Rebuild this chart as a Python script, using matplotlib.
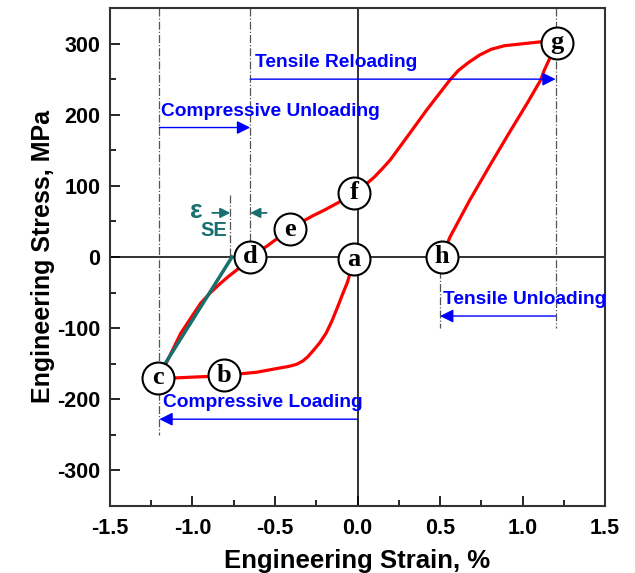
import numpy as np
import matplotlib
matplotlib.use('Agg')
import matplotlib.pyplot as plt
from matplotlib.ticker import MultipleLocator

plt.rcParams['font.family'] = ['Liberation Sans', 'DejaVu Sans']

# Curva de esfuerzo-deformacion
carga_x = [-0.02, -0.04, -0.06, -0.09, -0.12, -0.155, -0.19, -0.23, -0.27, -0.30, -0.33,
           -0.37, -0.42, -0.47, -0.54, -0.61, -0.70, -0.81, -0.91, -1.01, -1.10, -1.20]
carga_y = [-3, -18, -35, -52, -70, -90, -107, -121, -132, -140, -146,
           -151, -154, -156, -159, -162, -164, -166, -168, -169, -170, -170]

descarga_x = [-1.20, -1.17, -1.15, -1.11, -1.07, -1.01, -0.95, -0.89, -0.83, -0.78, -0.73,
              -0.69, -0.65, -0.60, -0.55, -0.48, -0.41, -0.34, -0.27, -0.20, -0.12, -0.06, -0.02]
descarga_y = [-170, -155, -145, -126, -107, -86, -65, -50, -37, -27, -18,
               -9, 0, 8, 15, 27, 39, 49, 58, 66, 76, 84, 90]

recarga_x = [-0.02, 0.02, 0.06, 0.10, 0.15, 0.20, 0.26, 0.32, 0.37, 0.42, 0.49, 0.56,
             0.61, 0.67, 0.74, 0.81, 0.89, 0.97, 1.05, 1.13, 1.21]
recarga_y = [90, 97, 104, 112, 124, 137, 156, 175, 191, 207, 228, 249,
             262, 273, 284, 292, 297, 299, 301, 303, 303]

desc_tension_x = [1.21, 1.19, 1.16, 1.13, 1.11, 1.07, 1.03, 0.92, 0.81, 0.68, 0.56, 0.51]
desc_tension_y = [303, 292, 277, 262, 249, 233, 217, 175, 132, 80, 28, 0]

# Recta elastica (epsilon_SE)
recta_x = [-1.16, -0.76]
recta_y = [-148, 0]

# Puntos etiquetados
etiquetas = ['a', 'b', 'c', 'd', 'e', 'f', 'g', 'h']
etiq_x = [-0.02, -0.81, -1.21, -0.65, -0.41, -0.02, 1.21, 0.51]
etiq_y = [-3, -166, -170, 0, 39, 90, 301, 0]

# Lineas verticales de referencia (x, y_inicio, y_fin)
guias_x = [-1.2, -0.65, 1.2, 0.5, -0.77]
guias_y0 = [350, 350, 350, 0, 87]
guias_y1 = [-250, 0, -100, -100, 0]

# Flechas con texto
flechas_txt = ['Tensile Reloading', 'Compressive Unloading', 'Tensile Unloading', 'Compressive Loading']
flechas_tx = [-0.62, -1.19, 0.52, -1.18]
flechas_ty = [273, 204, -60, -204]
flechas_x0 = [-0.65, -1.2, 1.2, 0.0]
flechas_x1 = [1.2, -0.65, 0.5, -1.2]
flechas_y = [250, 182, -83, -228]

rojo = '#ff0000'
verde = '#17706e'
azul = '#0000ff'

fig = plt.figure(figsize=(6.35, 5.73), dpi=100)
ax = fig.add_axes([0.173, 0.117, 0.780, 0.869])

ax.axhline(0, color='#222222', lw=1.3, zorder=1)
ax.axvline(0, color='#222222', lw=1.3, zorder=1)

for gx, g0, g1 in zip(guias_x, guias_y0, guias_y1):
    ax.plot([gx, gx], [g0, g1], color='#555555', lw=0.9, ls='-.', zorder=1)

ax.plot(carga_x, carga_y, color=rojo, lw=2.3, zorder=2)
ax.plot(descarga_x, descarga_y, color=rojo, lw=2.3, zorder=2)
ax.plot(recarga_x, recarga_y, color=rojo, lw=2.3, zorder=2)
ax.plot(desc_tension_x, desc_tension_y, color=rojo, lw=2.3, zorder=2)
ax.plot(recta_x, recta_y, color=verde, lw=2.5, zorder=3)

for txt, tx, ty, x0, x1, fy in zip(flechas_txt, flechas_tx, flechas_ty, flechas_x0, flechas_x1, flechas_y):
    ax.annotate('', xy=(x1, fy), xytext=(x0, fy),
                arrowprops=dict(arrowstyle='-|>', color=azul, lw=1.0, mutation_scale=20, shrinkA=0, shrinkB=0))
    ax.text(tx, ty, txt, color=azul, fontsize=13.8, fontweight='bold', va='center', ha='left')

# epsilon_SE
ax.annotate('', xy=(-0.77, 62), xytext=(-0.88, 62),
            arrowprops=dict(arrowstyle='-|>', color=verde, lw=1.3, mutation_scale=15, shrinkA=0, shrinkB=0))
ax.annotate('', xy=(-0.65, 62), xytext=(-0.55, 62),
            arrowprops=dict(arrowstyle='-|>', color=verde, lw=1.3, mutation_scale=15, shrinkA=0, shrinkB=0))
ax.text(-0.975, 64, 'ε', color=verde, fontsize=19, fontweight='bold', ha='center', va='center')
ax.text(-0.87, 37, 'SE', color=verde, fontsize=14.5, fontweight='bold', ha='center', va='center')

ax.plot(etiq_x, etiq_y, 'o', ms=23, mfc='white', mec='black', mew=1.5, zorder=4, ls='none')
for lab, lx, ly in zip(etiquetas, etiq_x, etiq_y):
    ax.text(lx, ly, lab, fontsize=19, fontweight='bold', ha='center', va='center',
            family=['Liberation Serif'], zorder=5)

ax.set_xlim(-1.5, 1.5)
ax.set_ylim(-350, 350)
ax.xaxis.set_minor_locator(MultipleLocator(0.25))
ax.yaxis.set_minor_locator(MultipleLocator(50))
ax.set_xticks([-1.5, -1.0, -0.5, 0.0, 0.5, 1.0, 1.5])
ax.set_xticklabels(['-1.5', '-1.0', '-0.5', '0.0', '0.5', '1.0', '1.5'])
ax.set_yticks([-300, -200, -100, 0, 100, 200, 300])
ax.set_yticklabels(['-300', '-200', '-100', '0', '100', '200', '300'])
ax.tick_params(which='both', direction='in', labelsize=15.5, width=1.2)
ax.tick_params(which='major', length=7)
ax.tick_params(which='minor', length=4)
ax.tick_params(axis='x', pad=9)
ax.tick_params(axis='y', pad=7)
for lab in ax.get_xticklabels() + ax.get_yticklabels():
    lab.set_fontweight('bold')
for sp in ax.spines.values():
    sp.set_linewidth(1.5)
    sp.set_color('#333333')

ax.set_xlabel('Engineering Strain, %', fontsize=18.5, fontweight='bold', labelpad=7)
ax.set_ylabel('Engineering Stress, MPa', fontsize=18, fontweight='bold', labelpad=1)

fig.savefig('out.png', dpi=100)
